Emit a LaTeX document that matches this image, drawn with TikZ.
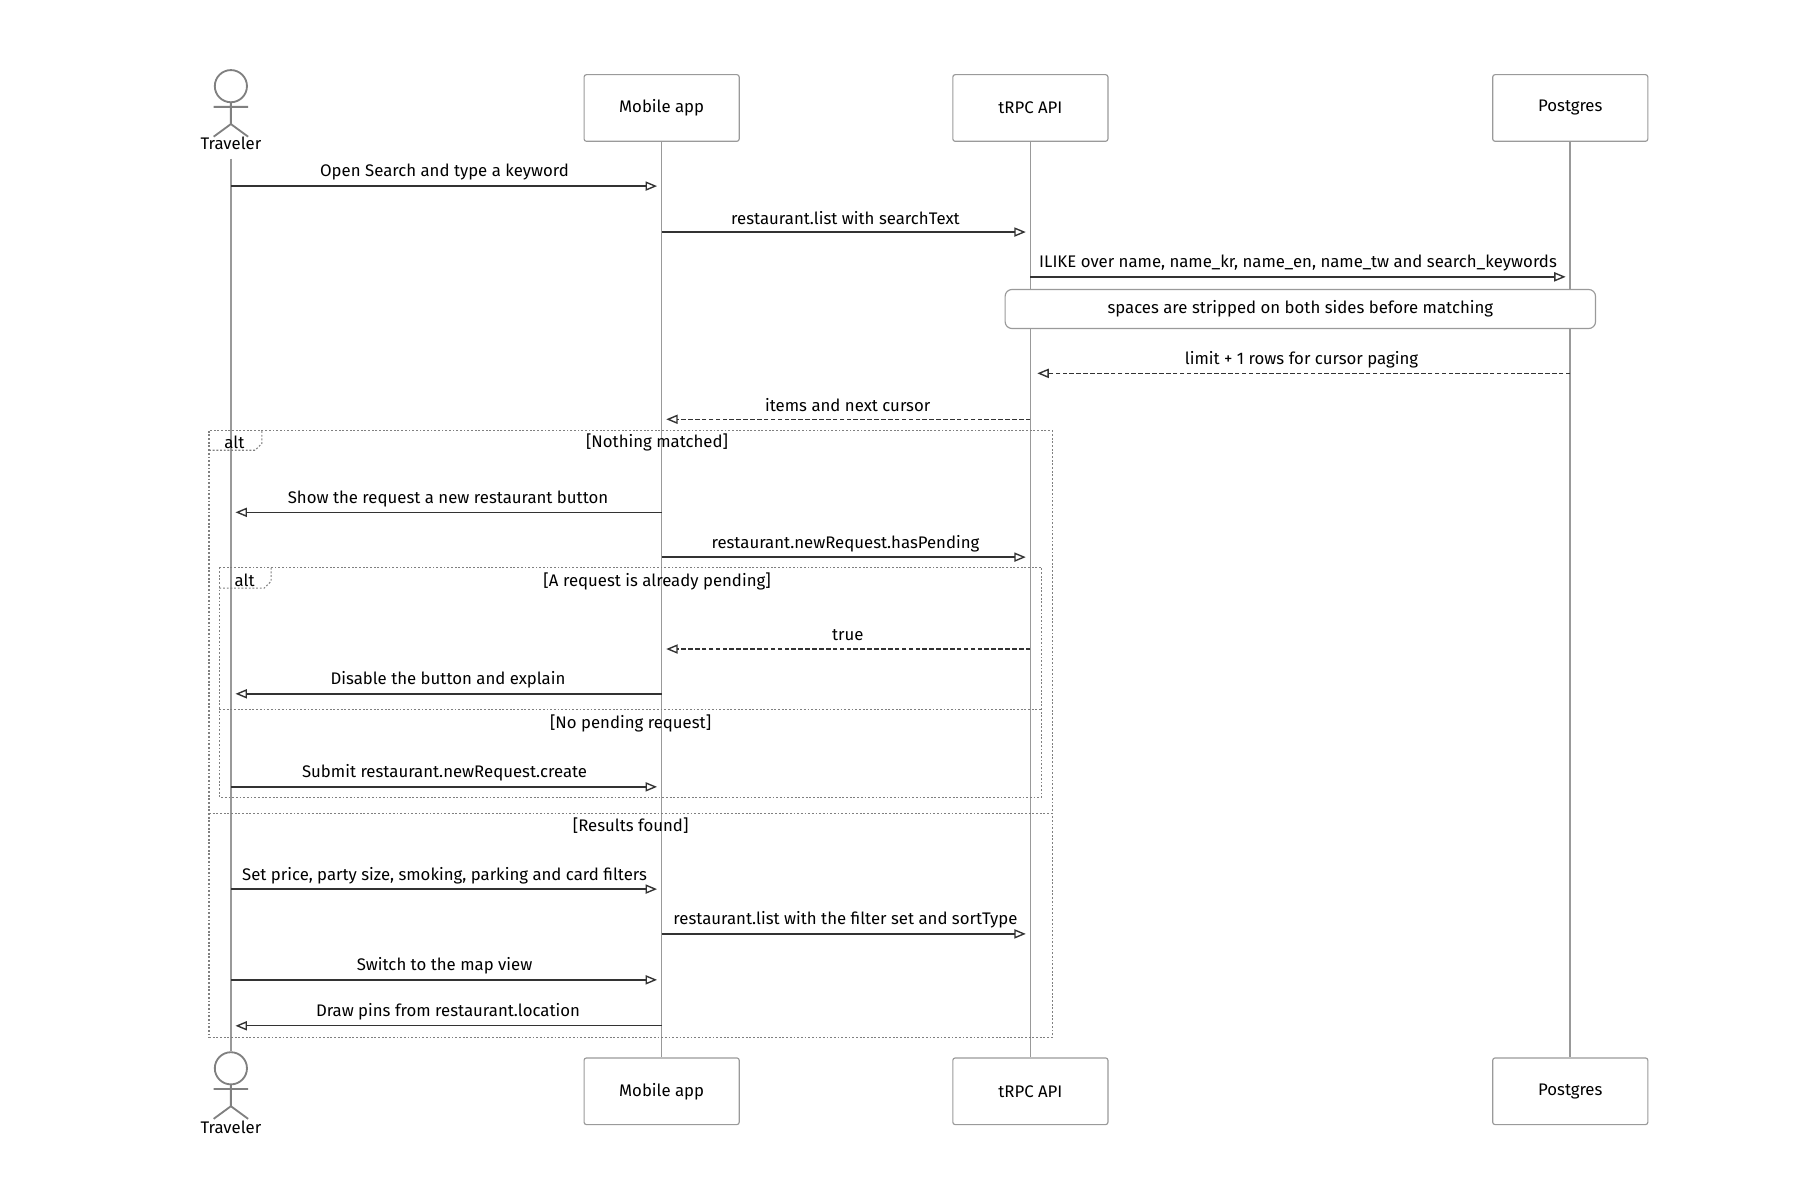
\documentclass[tikz,border=0pt]{standalone}
\usepackage{fontspec}
\setmainfont{Fira Sans}
\usetikzlibrary{arrows.meta}
\definecolor{ln}{HTML}{333333}
\definecolor{lf}{HTML}{999999}
\definecolor{bx}{HTML}{9A9A9A}
\tikzset{x=0.5pt,y=-0.5pt,
 every node/.style={font=\fontsize{7.3}{9}\selectfont, text=black},
 part/.style={draw=bx, fill=white, rounded corners=1pt, minimum width=67.5pt, minimum height=29pt, line width=0.5pt},
 life/.style={draw=lf, line width=0.7pt},
 msg/.style={draw=ln, line width=0.6pt, -{Triangle[open,length=5pt,width=4pt]}},
 ret/.style={msg, dash pattern=on 2pt off 1pt},
 lbl/.style={inner sep=0pt},
 frame/.style={draw=gray, line width=0.5pt, dash pattern=on 0.8pt off 0.8pt},
 actor/.style={draw=gray, line width=0.8pt}}
\newcommand{\actorfig}[2]{%
 \draw[actor, fill=white] (#1,#2) circle (14);
 \draw[actor] (#1,#2+14) -- (#1,#2+33) (#1-15,#2+18) -- (#1+15,#2+18)
   (#1-15,#2+44) -- (#1,#2+33) -- (#1+15,#2+44);}
\newcommand{\msgline}[6]{% style, fromx, tox, y, label, labelx
 \coordinate (s#4) at (#2,#4); \coordinate (e#4) at (#3,#4);
 \draw[#1] (s#4) -- (e#4);
 \node[lbl] at (#6,#4-12) {#5};}
\begin{document}
\begin{tikzpicture}
\useasboundingbox (0,0) rectangle (1567,1045);
% lifelines
\coordinate (tt) at (201,138); \coordinate (tb) at (201,915);
\node[part] (m) at (576,94) {Mobile app};
\node[part] (a) at (897,94) {tRPC API};
\node[part] (p) at (1367,94) {Postgres};
\node[part] (mb) at (576,950) {Mobile app};
\node[part] (ab) at (897,950) {tRPC API};
\node[part] (pb) at (1367,950) {Postgres};
\draw[life] (tt) -- (tb);
\draw[life] (m) -- (mb); \draw[life] (a) -- (ab); \draw[life] (p) -- (pb);
\actorfig{201}{75}
\node (tl) at (201,125) {Traveler};
\actorfig{201}{930}
\node (tl2) at (201,981) {Traveler};
% frames
\draw[frame, fill=none] (182,375) rectangle (916,903);
\draw[frame] (182,392) -- (222,392) -- (228,386) -- (228,375);
\node at (204,385) {alt};
\node at (572,385) {[Nothing matched]};
\draw[frame] (191,494) rectangle (907,694);
\draw[frame] (191,512) -- (230,512) -- (236,506) -- (236,494);
\node at (213,505) {alt};
\node at (572,506) {[A request is already pending]};
\draw[frame] (191,618) -- (907,618);
\node at (549,630) {[No pending request]};
\draw[frame] (182,708) -- (916,708);
\node at (549,719) {[Results found]};
% note
\node[draw=bx, fill=white, rounded corners=3pt, minimum width=257pt, minimum height=17pt, line width=0.5pt] (note) at (1132,269) {spaces are stripped on both sides before matching};
% messages
\msgline{msg}{201}{572}{162}{Open Search and type a keyword}{387}
\msgline{msg}{576}{893}{202}{restaurant.list with searchText}{736}
\msgline{msg}{897}{1363}{241}{ILIKE over name, name\_kr, name\_en, name\_tw and search\_keywords}{1130}
\msgline{ret}{1367}{903}{325}{limit + 1 rows for cursor paging}{1133}
\msgline{ret}{897}{580}{365}{items and next cursor}{738}
\msgline{msg}{576}{205}{446}{Show the request a new restaurant button}{390}
\msgline{msg}{576}{893}{485}{restaurant.newRequest.hasPending}{736}
\msgline{ret}{897}{580}{565}{true}{738}
\msgline{msg}{576}{205}{604}{Disable the button and explain}{390}
\msgline{msg}{201}{572}{685}{Submit restaurant.newRequest.create}{387}
\msgline{msg}{201}{572}{774}{Set price, party size, smoking, parking and card filters}{387}
\msgline{msg}{576}{893}{813}{restaurant.list with the filter set and sortType}{736}
\msgline{msg}{201}{572}{853}{Switch to the map view}{387}
\msgline{msg}{576}{205}{893}{Draw pins from restaurant.location}{390}
\end{tikzpicture}
\end{document}
